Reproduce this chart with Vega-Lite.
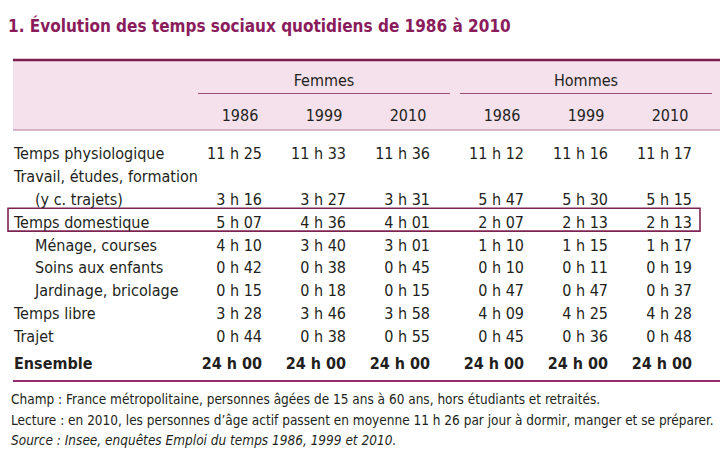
{
  "$schema": "https://vega.github.io/schema/vega-lite/v6.json",
  "width": 720,
  "height": 454,
  "autosize": {"type": "none"},
  "padding": 0,
  "background": "white",
  "title": {
    "text": "1. Évolution des temps sociaux quotidiens de 1986 à 2010",
    "anchor": "start",
    "orient": "top",
    "frame": "group",
    "offset": 0,
    "baseline": "alphabetic",
    "dx": 8,
    "dy": 49,
    "font": "DejaVu Sans Condensed, sans-serif",
    "fontSize": 17,
    "fontWeight": "bold",
    "color": "#8a1c5c"
  },
  "datasets": {
    "entete": [{"ligne": "Sexe"}, {"ligne": "Année"}],
    "colonnes": [
      {"sexe": "Femmes", "annee": "1986"}, {"sexe": "Femmes", "annee": "1999"}, {"sexe": "Femmes", "annee": "2010"},
      {"sexe": "Hommes", "annee": "1986"}, {"sexe": "Hommes", "annee": "1999"}, {"sexe": "Hommes", "annee": "2010"}
    ],
    "stub": [
      {"cle": "Temps physiologique", "libelle": "Temps physiologique", "niveau": 1},
      {"cle": "Travail, études, formation", "libelle": "Travail, études, formation", "niveau": 1},
      {"cle": "Travail, études, formation (y c. trajets)", "libelle": "(y c. trajets)", "niveau": 2},
      {"cle": "Temps domestique", "libelle": "Temps domestique", "niveau": 1},
      {"cle": "Ménage, courses", "libelle": "Ménage, courses", "niveau": 2},
      {"cle": "Soins aux enfants", "libelle": "Soins aux enfants", "niveau": 2},
      {"cle": "Jardinage, bricolage", "libelle": "Jardinage, bricolage", "niveau": 2},
      {"cle": "Temps libre", "libelle": "Temps libre", "niveau": 1},
      {"cle": "Trajet", "libelle": "Trajet", "niveau": 1},
      {"cle": "Ensemble", "libelle": "Ensemble", "niveau": 1}
    ],
    "temps": [
      {"poste": "Temps physiologique", "sexe": "Femmes", "annee": "1986", "duree": "11 h 25"},
      {"poste": "Temps physiologique", "sexe": "Femmes", "annee": "1999", "duree": "11 h 33"},
      {"poste": "Temps physiologique", "sexe": "Femmes", "annee": "2010", "duree": "11 h 36"},
      {"poste": "Temps physiologique", "sexe": "Hommes", "annee": "1986", "duree": "11 h 12"},
      {"poste": "Temps physiologique", "sexe": "Hommes", "annee": "1999", "duree": "11 h 16"},
      {"poste": "Temps physiologique", "sexe": "Hommes", "annee": "2010", "duree": "11 h 17"},
      {"poste": "Travail, études, formation (y c. trajets)", "sexe": "Femmes", "annee": "1986", "duree": "3 h 16"},
      {"poste": "Travail, études, formation (y c. trajets)", "sexe": "Femmes", "annee": "1999", "duree": "3 h 27"},
      {"poste": "Travail, études, formation (y c. trajets)", "sexe": "Femmes", "annee": "2010", "duree": "3 h 31"},
      {"poste": "Travail, études, formation (y c. trajets)", "sexe": "Hommes", "annee": "1986", "duree": "5 h 47"},
      {"poste": "Travail, études, formation (y c. trajets)", "sexe": "Hommes", "annee": "1999", "duree": "5 h 30"},
      {"poste": "Travail, études, formation (y c. trajets)", "sexe": "Hommes", "annee": "2010", "duree": "5 h 15"},
      {"poste": "Temps domestique", "sexe": "Femmes", "annee": "1986", "duree": "5 h 07"},
      {"poste": "Temps domestique", "sexe": "Femmes", "annee": "1999", "duree": "4 h 36"},
      {"poste": "Temps domestique", "sexe": "Femmes", "annee": "2010", "duree": "4 h 01"},
      {"poste": "Temps domestique", "sexe": "Hommes", "annee": "1986", "duree": "2 h 07"},
      {"poste": "Temps domestique", "sexe": "Hommes", "annee": "1999", "duree": "2 h 13"},
      {"poste": "Temps domestique", "sexe": "Hommes", "annee": "2010", "duree": "2 h 13"},
      {"poste": "Ménage, courses", "sexe": "Femmes", "annee": "1986", "duree": "4 h 10"},
      {"poste": "Ménage, courses", "sexe": "Femmes", "annee": "1999", "duree": "3 h 40"},
      {"poste": "Ménage, courses", "sexe": "Femmes", "annee": "2010", "duree": "3 h 01"},
      {"poste": "Ménage, courses", "sexe": "Hommes", "annee": "1986", "duree": "1 h 10"},
      {"poste": "Ménage, courses", "sexe": "Hommes", "annee": "1999", "duree": "1 h 15"},
      {"poste": "Ménage, courses", "sexe": "Hommes", "annee": "2010", "duree": "1 h 17"},
      {"poste": "Soins aux enfants", "sexe": "Femmes", "annee": "1986", "duree": "0 h 42"},
      {"poste": "Soins aux enfants", "sexe": "Femmes", "annee": "1999", "duree": "0 h 38"},
      {"poste": "Soins aux enfants", "sexe": "Femmes", "annee": "2010", "duree": "0 h 45"},
      {"poste": "Soins aux enfants", "sexe": "Hommes", "annee": "1986", "duree": "0 h 10"},
      {"poste": "Soins aux enfants", "sexe": "Hommes", "annee": "1999", "duree": "0 h 11"},
      {"poste": "Soins aux enfants", "sexe": "Hommes", "annee": "2010", "duree": "0 h 19"},
      {"poste": "Jardinage, bricolage", "sexe": "Femmes", "annee": "1986", "duree": "0 h 15"},
      {"poste": "Jardinage, bricolage", "sexe": "Femmes", "annee": "1999", "duree": "0 h 18"},
      {"poste": "Jardinage, bricolage", "sexe": "Femmes", "annee": "2010", "duree": "0 h 15"},
      {"poste": "Jardinage, bricolage", "sexe": "Hommes", "annee": "1986", "duree": "0 h 47"},
      {"poste": "Jardinage, bricolage", "sexe": "Hommes", "annee": "1999", "duree": "0 h 47"},
      {"poste": "Jardinage, bricolage", "sexe": "Hommes", "annee": "2010", "duree": "0 h 37"},
      {"poste": "Temps libre", "sexe": "Femmes", "annee": "1986", "duree": "3 h 28"},
      {"poste": "Temps libre", "sexe": "Femmes", "annee": "1999", "duree": "3 h 46"},
      {"poste": "Temps libre", "sexe": "Femmes", "annee": "2010", "duree": "3 h 58"},
      {"poste": "Temps libre", "sexe": "Hommes", "annee": "1986", "duree": "4 h 09"},
      {"poste": "Temps libre", "sexe": "Hommes", "annee": "1999", "duree": "4 h 25"},
      {"poste": "Temps libre", "sexe": "Hommes", "annee": "2010", "duree": "4 h 28"},
      {"poste": "Trajet", "sexe": "Femmes", "annee": "1986", "duree": "0 h 44"},
      {"poste": "Trajet", "sexe": "Femmes", "annee": "1999", "duree": "0 h 38"},
      {"poste": "Trajet", "sexe": "Femmes", "annee": "2010", "duree": "0 h 55"},
      {"poste": "Trajet", "sexe": "Hommes", "annee": "1986", "duree": "0 h 45"},
      {"poste": "Trajet", "sexe": "Hommes", "annee": "1999", "duree": "0 h 36"},
      {"poste": "Trajet", "sexe": "Hommes", "annee": "2010", "duree": "0 h 48"},
      {"poste": "Ensemble", "sexe": "Femmes", "annee": "1986", "duree": "24 h 00"},
      {"poste": "Ensemble", "sexe": "Femmes", "annee": "1999", "duree": "24 h 00"},
      {"poste": "Ensemble", "sexe": "Femmes", "annee": "2010", "duree": "24 h 00"},
      {"poste": "Ensemble", "sexe": "Hommes", "annee": "1986", "duree": "24 h 00"},
      {"poste": "Ensemble", "sexe": "Hommes", "annee": "1999", "duree": "24 h 00"},
      {"poste": "Ensemble", "sexe": "Hommes", "annee": "2010", "duree": "24 h 00"}
    ],
    "notes": [
      {"rubrique": "Champ", "note": "Champ : France métropolitaine, personnes âgées de 15 ans à 60 ans, hors étudiants et retraités."},
      {"rubrique": "Lecture", "note": "Lecture : en 2010, les personnes d’âge actif passent en moyenne 11 h 26 par jour à dormir, manger et se préparer."},
      {"rubrique": "Source", "note": "Source : Insee, enquêtes Emploi du temps 1986, 1999 et 2010."}
    ]
  },
  "resolve": {"scale": {"x": "independent", "y": "independent", "xOffset": "independent"}},
  "layer": [
    {
      "data": {"name": "entete"},
      "mark": {"type": "rect", "color": "#f4e1ec"},
      "encoding": {
        "x": {"value": 13},
        "x2": {"value": "width"},
        "y": {"field": "ligne", "type": "nominal", "scale": {"type": "band", "domain": ["Sexe", "Année"], "range": [60, 130], "paddingInner": 0, "paddingOuter": 0}}
      }
    },
    {
      "data": {"name": "entete"},
      "transform": [{"filter": "datum.ligne === 'Sexe'"}],
      "mark": {"type": "rule", "color": "#7b1f4f", "strokeWidth": 2.5},
      "encoding": {
        "x": {"value": 13},
        "x2": {"value": "width"},
        "y": {"field": "ligne", "type": "nominal", "bandPosition": 0, "scale": {"type": "band", "domain": ["Sexe", "Année"], "range": [60, 130], "paddingInner": 0, "paddingOuter": 0}}
      }
    },
    {
      "data": {"name": "entete"},
      "transform": [{"filter": "datum.ligne === 'Année'"}],
      "mark": {"type": "rule", "color": "#b07a98", "strokeWidth": 1.2},
      "encoding": {
        "x": {"value": 13},
        "x2": {"value": "width"},
        "y": {"field": "ligne", "type": "nominal", "bandPosition": 1, "scale": {"type": "band", "domain": ["Sexe", "Année"], "range": [60, 130], "paddingInner": 0, "paddingOuter": 0}}
      }
    },
    {
      "data": {"name": "colonnes"},
      "transform": [{"aggregate": [{"op": "count", "as": "n"}], "groupby": ["sexe"]}],
      "mark": {"type": "rule", "color": "#9a4f78", "strokeWidth": 1.2, "yOffset": -1.5},
      "encoding": {
        "x": {"field": "sexe", "type": "nominal", "bandPosition": 0, "scale": {"type": "band", "domain": ["Femmes", "Hommes"], "range": [198, 712], "paddingInner": 0.038, "paddingOuter": 0}},
        "x2": {"field": "sexe", "bandPosition": 1},
        "y": {"datum": "Année", "type": "nominal", "bandPosition": 0, "scale": {"type": "band", "domain": ["Sexe", "Année"], "range": [60, 130], "paddingInner": 0, "paddingOuter": 0}}
      }
    },
    {
      "data": {"name": "colonnes"},
      "transform": [{"aggregate": [{"op": "count", "as": "n"}], "groupby": ["sexe"]}],
      "mark": {"type": "text", "align": "center", "baseline": "middle", "dy": 3},
      "encoding": {
        "x": {"field": "sexe", "type": "nominal", "scale": {"type": "band", "domain": ["Femmes", "Hommes"], "range": [198, 712], "paddingInner": 0.038, "paddingOuter": 0}},
        "y": {"datum": "Sexe", "type": "nominal", "scale": {"type": "band", "domain": ["Sexe", "Année"], "range": [60, 130], "paddingInner": 0, "paddingOuter": 0}},
        "text": {"field": "sexe", "type": "nominal"}
      }
    },
    {
      "data": {"name": "colonnes"},
      "mark": {"type": "text", "align": "center", "baseline": "middle", "dy": 3},
      "encoding": {
        "x": {"field": "sexe", "type": "nominal", "scale": {"type": "band", "domain": ["Femmes", "Hommes"], "range": [198, 712], "paddingInner": 0.038, "paddingOuter": 0}},
        "xOffset": {"field": "annee", "type": "nominal", "scale": {"type": "band", "domain": ["1986", "1999", "2010"], "paddingInner": 0, "paddingOuter": 0}},
        "y": {"datum": "Année", "type": "nominal", "scale": {"type": "band", "domain": ["Sexe", "Année"], "range": [60, 130], "paddingInner": 0, "paddingOuter": 0}},
        "text": {"field": "annee", "type": "nominal"}
      }
    },
    {
      "data": {"name": "stub"},
      "transform": [{"filter": "datum.cle === 'Temps domestique'"}],
      "mark": {"type": "rect", "fillOpacity": 0, "stroke": "#7d2453", "strokeWidth": 1.6, "yOffset": -3, "y2Offset": -1.5},
      "encoding": {
        "x": {"value": 8},
        "x2": {"value": 700},
        "y": {"field": "cle", "type": "nominal", "scale": {"type": "band", "domain": ["Temps physiologique", "Travail, études, formation", "Travail, études, formation (y c. trajets)", "Temps domestique", "Ménage, courses", "Soins aux enfants", "Jardinage, bricolage", "Temps libre", "Trajet"], "range": [142.9, 348.1], "paddingInner": 0, "paddingOuter": 0}}
      }
    },
    {
      "data": {"name": "stub"},
      "transform": [{"filter": "datum.cle !== 'Ensemble'"}],
      "mark": {"type": "text", "align": "left", "baseline": "middle"},
      "encoding": {
        "x": {"field": "niveau", "type": "ordinal", "scale": {"type": "point", "domain": [1, 2], "range": [14, 35], "padding": 0}},
        "y": {"field": "cle", "type": "nominal", "scale": {"type": "band", "domain": ["Temps physiologique", "Travail, études, formation", "Travail, études, formation (y c. trajets)", "Temps domestique", "Ménage, courses", "Soins aux enfants", "Jardinage, bricolage", "Temps libre", "Trajet"], "range": [142.9, 348.1], "paddingInner": 0, "paddingOuter": 0}},
        "text": {"field": "libelle", "type": "nominal"}
      }
    },
    {
      "data": {"name": "temps"},
      "transform": [{"filter": "datum.poste !== 'Ensemble'"}],
      "mark": {"type": "text", "align": "right", "baseline": "middle", "dx": 22},
      "encoding": {
        "x": {"field": "sexe", "type": "nominal", "scale": {"type": "band", "domain": ["Femmes", "Hommes"], "range": [198, 712], "paddingInner": 0.038, "paddingOuter": 0}},
        "xOffset": {"field": "annee", "type": "nominal", "scale": {"type": "band", "domain": ["1986", "1999", "2010"], "paddingInner": 0, "paddingOuter": 0}},
        "y": {"field": "poste", "type": "nominal", "scale": {"type": "band", "domain": ["Temps physiologique", "Travail, études, formation", "Travail, études, formation (y c. trajets)", "Temps domestique", "Ménage, courses", "Soins aux enfants", "Jardinage, bricolage", "Temps libre", "Trajet"], "range": [142.9, 348.1], "paddingInner": 0, "paddingOuter": 0}},
        "text": {"field": "duree", "type": "nominal"}
      }
    },
    {
      "data": {"name": "stub"},
      "transform": [{"filter": "datum.cle === 'Ensemble'"}],
      "mark": {"type": "text", "align": "left", "baseline": "middle", "fontWeight": "bold"},
      "encoding": {
        "x": {"field": "niveau", "type": "ordinal", "scale": {"type": "point", "domain": [1, 2], "range": [14, 35], "padding": 0}},
        "y": {"field": "cle", "type": "nominal", "scale": {"type": "band", "domain": ["Ensemble"], "range": [347.6, 381], "paddingInner": 0, "paddingOuter": 0}},
        "text": {"field": "libelle", "type": "nominal"}
      }
    },
    {
      "data": {"name": "temps"},
      "transform": [{"filter": "datum.poste === 'Ensemble'"}],
      "mark": {"type": "text", "align": "right", "baseline": "middle", "dx": 22, "fontWeight": "bold"},
      "encoding": {
        "x": {"field": "sexe", "type": "nominal", "scale": {"type": "band", "domain": ["Femmes", "Hommes"], "range": [198, 712], "paddingInner": 0.038, "paddingOuter": 0}},
        "xOffset": {"field": "annee", "type": "nominal", "scale": {"type": "band", "domain": ["1986", "1999", "2010"], "paddingInner": 0, "paddingOuter": 0}},
        "y": {"field": "poste", "type": "nominal", "scale": {"type": "band", "domain": ["Ensemble"], "range": [347.6, 381], "paddingInner": 0, "paddingOuter": 0}},
        "text": {"field": "duree", "type": "nominal"}
      }
    },
    {
      "data": {"name": "stub"},
      "transform": [{"filter": "datum.cle === 'Ensemble'"}],
      "mark": {"type": "rule", "color": "#962a6d", "strokeWidth": 2},
      "encoding": {
        "x": {"value": 13},
        "x2": {"value": "width"},
        "y": {"field": "cle", "type": "nominal", "bandPosition": 1, "scale": {"type": "band", "domain": ["Ensemble"], "range": [347.6, 381], "paddingInner": 0, "paddingOuter": 0}}
      }
    },
    {
      "data": {"name": "notes"},
      "transform": [{"filter": "datum.rubrique !== 'Source'"}],
      "mark": {"type": "text", "align": "left", "baseline": "middle", "fontSize": 13.5},
      "encoding": {
        "x": {"value": 11},
        "y": {"field": "rubrique", "type": "nominal", "scale": {"type": "band", "domain": ["Champ", "Lecture", "Source"], "range": [390, 451.2], "paddingInner": 0, "paddingOuter": 0}},
        "text": {"field": "note", "type": "nominal"}
      }
    },
    {
      "data": {"name": "notes"},
      "transform": [{"filter": "datum.rubrique === 'Source'"}],
      "mark": {"type": "text", "align": "left", "baseline": "middle", "fontSize": 13.5, "fontStyle": "italic"},
      "encoding": {
        "x": {"value": 11},
        "y": {"field": "rubrique", "type": "nominal", "scale": {"type": "band", "domain": ["Champ", "Lecture", "Source"], "range": [390, 451.2], "paddingInner": 0, "paddingOuter": 0}},
        "text": {"field": "note", "type": "nominal"}
      }
    }
  ],
  "config": {
    "view": {"stroke": null},
    "axis": {"disable": true},
    "text": {"font": "DejaVu Sans Condensed, sans-serif", "fontSize": 16, "color": "#231f20"}
  }
}
